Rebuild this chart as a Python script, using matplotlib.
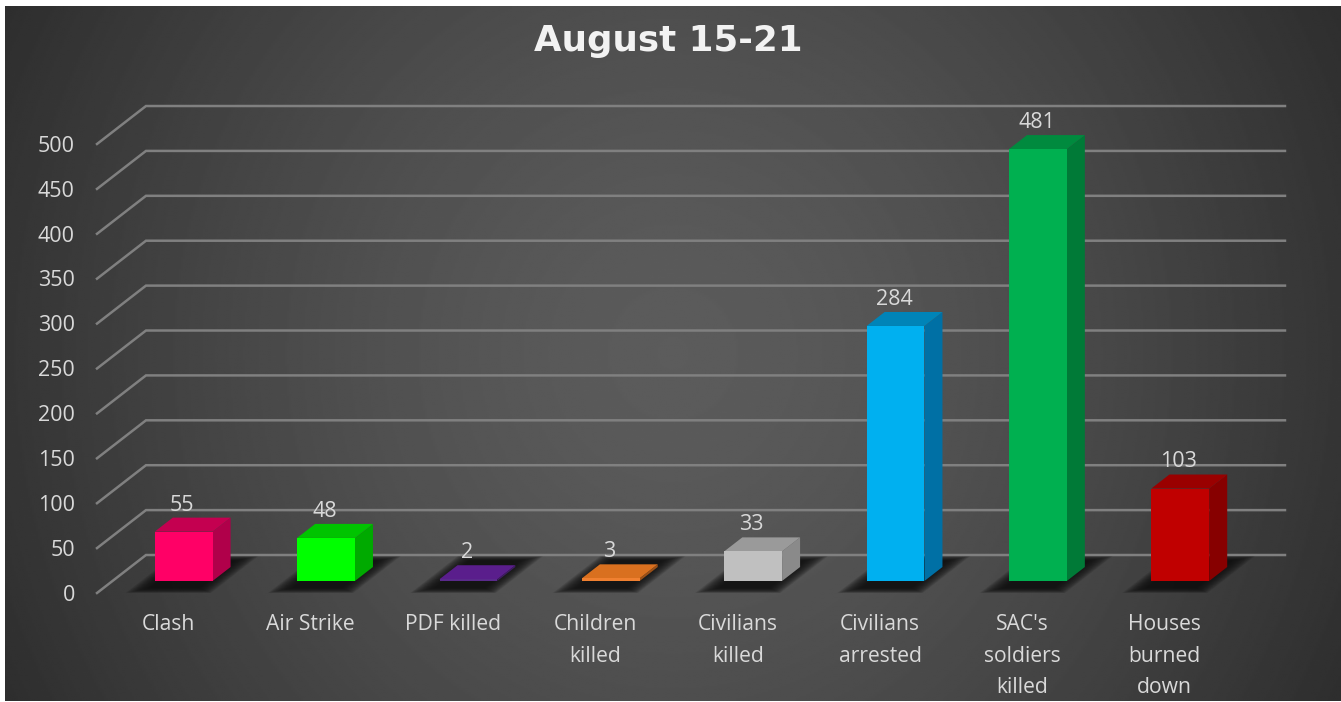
import numpy as np
import matplotlib
matplotlib.use('Agg')
import matplotlib.pyplot as plt
from matplotlib.patches import Polygon
from matplotlib.transforms import ScaledTranslation

categories = ['Clash', 'Air Strike', 'PDF killed', 'Children\nkilled', 'Civilians\nkilled',
              'Civilians\narrested', "SAC's\nsoldiers\nkilled", 'Houses\nburned\ndown']
values = [55, 48, 2, 3, 33, 284, 481, 103]
y_ticks = [0, 50, 100, 150, 200, 250, 300, 350, 400, 450, 500]
front_colors = ['#FF0066', '#00FF00', '#5A2A8C', '#F08030', '#C0C0C0', '#00B0F0', '#00B050', '#C00000']
side_colors = ['#B0004A', '#00AA00', '#3F1D63', '#9C5016', '#8A8A8A', '#0070A5', '#007A37', '#870000']
top_colors = ['#C40050', '#00C400', '#5A1E8C', '#D9701F', '#9A9A9A', '#0084B8', '#008A3E', '#9A0000']

W, H = 1341, 702
plt.rcParams['font.family'] = ['Open Sans', 'DejaVu Sans']
TEXT = '#D9D9D9'

fig = plt.figure(figsize=(W / 100, H / 100), dpi=100, facecolor='white')

# background
bg = fig.add_axes([5 / W, 1 / H, (W - 5) / W, (H - 7) / H], zorder=0)
yy, xx = np.mgrid[-1:1:350j, -1:1:670j]
r = np.sqrt(xx ** 2 + 0.25 * yy ** 2) / np.sqrt(1.25)
shade = 0.36 - 0.18 * r ** 1.5
bg.imshow(shade, cmap='gray', vmin=0, vmax=1, aspect='auto', interpolation='bilinear')
bg.axis('off')

ax = fig.add_axes([97 / W, (H - 593) / H, 1139 / W, 449 / H], zorder=1)
ax.patch.set_visible(False)
ax.set_xlim(-0.5, 7.5)
ax.set_ylim(0, 500)
for s in ax.spines.values():
    s.set_visible(False)

# how far the back wall sits from the front plane, in data units
DX, DY = 0.344, 42.3


def pt(x, y, d):
    return (x + DX * d, y + DY * d)


GRID = '#808080'
for v in y_ticks:
    ax.plot(*zip(pt(-0.5, v, 0), pt(-0.5, v, 1), pt(7.5, v, 1)), color=GRID, lw=1.8,
            solid_joinstyle='miter', clip_on=False, zorder=1)

half = 0.203
d1, d2 = 0.316, 0.684
for i, v in enumerate(values):
    # floor shadow, stacked so the edge goes soft
    for k in np.linspace(1, 0, 20):
        w = 0.17 + 0.13 * k
        a, b = 0.14 - 0.14 * k, 0.84 + 0.13 * k
        poly = [pt(i - w, 0, a), pt(i + w, 0, a), pt(i + w, 0, b), pt(i - w, 0, b)]
        ax.add_patch(Polygon(poly, closed=True, fc='#111111', ec='none', alpha=0.1,
                             clip_on=False, zorder=2))
    l, r_ = i - half, i + half
    ax.add_patch(Polygon([pt(r_, 0, d1), pt(r_, 0, d2), pt(r_, v, d2), pt(r_, v, d1)], closed=True,
                         fc=side_colors[i], ec='none', clip_on=False, zorder=3))
    ax.add_patch(Polygon([pt(l, v, d1), pt(r_, v, d1), pt(r_, v, d2), pt(l, v, d2)], closed=True,
                         fc=top_colors[i], ec='none', clip_on=False, zorder=3))
    ax.add_patch(Polygon([pt(l, 0, d1), pt(r_, 0, d1), pt(r_, v, d1), pt(l, v, d1)], closed=True,
                         fc=front_colors[i], ec='none', clip_on=False, zorder=4))
    lx, ly = pt(i, v, d2)
    ax.annotate(str(v), (pt(i, v, d1)[0], ly), xytext=(-1, 1.5), textcoords='offset points', ha='center',
                va='bottom', color=TEXT, fontsize=15.5, zorder=5, annotation_clip=False)

ax.set_xticks(range(len(categories)))
ax.set_xticklabels(categories, fontsize=15.2, color=TEXT, linespacing=1.67)
ax.set_yticks(y_ticks)
ax.set_yticklabels([str(v) for v in y_ticks], fontsize=15.5, color=TEXT)
ax.tick_params(axis='x', length=0, pad=15)
ax.tick_params(axis='y', length=0, pad=16)
shift = ScaledTranslation(0, 0.2 / 72, fig.dpi_scale_trans)
for lab in ax.get_yticklabels():
    lab.set_transform(lab.get_transform() + shift)

fig.text(668 / W, 1 - 41 / H, 'August 15-21', ha='center', va='center', color='#F2F2F2',
         fontsize=25.7, fontweight='bold', family='DejaVu Sans')

fig.savefig('out.png', dpi=100, facecolor='white')
